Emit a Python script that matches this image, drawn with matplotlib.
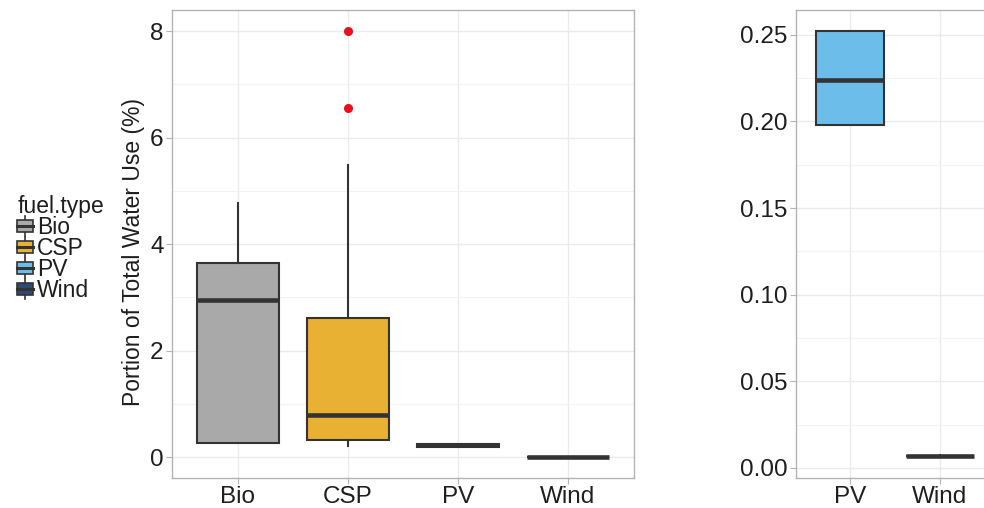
import numpy as np
import matplotlib
matplotlib.use("Agg")
import matplotlib.pyplot as plt
from matplotlib.patches import Patch, Rectangle
from matplotlib.lines import Line2D
from matplotlib.legend_handler import HandlerBase
from matplotlib.ticker import MultipleLocator

plt.rcParams['font.family'] = ['Liberation Sans', 'DejaVu Sans']

# データ（図から読み取った箱ひげ図の統計量）
fuel_types = ["Bio", "CSP", "PV", "Wind"]
colors = ["#A9A9A9", "#E9B134", "#6DBDEA", "#2D4A70"]
whislo = [0.26, 0.21, 0.198, 0.0065]
q1 = [0.26, 0.33, 0.198, 0.0068]
med = [2.95, 0.79, 0.224, 0.0070]
q3 = [3.64, 2.62, 0.252, 0.0072]
whishi = [4.77, 5.49, 0.252, 0.0075]
fliers = [[], [6.55, 8.0], [], []]
right_types = ["PV", "Wind"]

edge = "#333333"
grid_major = "#EBEBEB"
grid_minor = "#F3F3F3"
border = "#B3B3B3"
text_col = "#1E1E1E"


def make_stats(names):
    stats = []
    for n in names:
        i = fuel_types.index(n)
        stats.append(dict(label=n, whislo=whislo[i], q1=q1[i], med=med[i],
                          q3=q3[i], whishi=whishi[i], fliers=fliers[i]))
    return stats


def draw_panel(ax, names, major, ticks_fmt):
    stats = make_stats(names)
    pos = np.arange(1, len(names) + 1)
    bp = ax.bxp(stats, positions=pos, widths=0.75, patch_artist=True,
                showcaps=False, zorder=3,
                boxprops=dict(edgecolor=edge, linewidth=1.5),
                medianprops=dict(color=edge, linewidth=3.3, solid_capstyle='butt'),
                whiskerprops=dict(color=edge, linewidth=1.5),
                flierprops=dict(marker='o', markerfacecolor='#E8101C',
                                markeredgecolor='#E8101C', markersize=5.5))
    for patch, n in zip(bp['boxes'], names):
        patch.set_facecolor(colors[fuel_types.index(n)])
    # ggplot風の範囲（データ範囲の5%拡張）
    lo = min(min(s['whislo'], *(s['fliers'] or [s['whislo']])) for s in stats)
    hi = max(max(s['whishi'], *(s['fliers'] or [s['whishi']])) for s in stats)
    pad = (hi - lo) * 0.05
    ax.set_ylim(lo - pad, hi + pad)
    ax.set_xlim(0.4, len(names) + 0.6)
    ax.yaxis.set_major_locator(MultipleLocator(major))
    ax.yaxis.set_minor_locator(MultipleLocator(major / 2))
    ax.yaxis.set_major_formatter(ticks_fmt)
    ax.grid(which='major', color=grid_major, linewidth=1.0, zorder=0)
    ax.grid(which='minor', axis='y', color=grid_minor, linewidth=0.8, zorder=0)
    ax.set_axisbelow(True)
    for s in ax.spines.values():
        s.set_color(border)
        s.set_linewidth(1.0)
    ax.tick_params(which='major', length=4, color=border, labelsize=17.5,
                   labelcolor=text_col, pad=2)
    ax.tick_params(which='minor', length=0)
    ax.set_xticks(pos)
    ax.set_xticklabels(names)


class BoxHandler(HandlerBase):
    def create_artists(self, legend, orig_handle, xdescent, ydescent,
                       width, height, fontsize, trans):
        cx = width / 2 - xdescent
        y0 = -ydescent
        arts = [Line2D([cx, cx], [y0 - 0.1 * height, y0 + 1.1 * height],
                       color=edge, linewidth=1.2, transform=trans),
                Rectangle((-xdescent, y0 + 0.15 * height), width, 0.7 * height,
                          facecolor=orig_handle.get_facecolor(), edgecolor=edge,
                          linewidth=1.2, transform=trans),
                Line2D([-xdescent, width - xdescent], [y0 + height / 2] * 2,
                       color=edge, linewidth=2.2, transform=trans)]
        return arts


fig = plt.figure(figsize=(9.84, 5.08), dpi=100)
ax1 = fig.add_axes([172 / 984, 30 / 508, 462 / 984, 468 / 508])
ax2 = fig.add_axes([796 / 984, 30 / 508, 198 / 984, 468 / 508])

draw_panel(ax1, fuel_types, 2, matplotlib.ticker.FormatStrFormatter('%d'))
draw_panel(ax2, right_types, 0.05, matplotlib.ticker.FormatStrFormatter('%.2f'))
ax1.set_ylabel("Portion of Total Water Use (%)", fontsize=16.5, color=text_col)
ax1.yaxis.set_label_coords(-0.058, 0.483)

handles = [Patch(facecolor=c, label=n) for c, n in zip(colors, fuel_types)]
leg = fig.legend(handles=handles, loc='center left', bbox_to_anchor=(0.006, 0.511),
                 frameon=False, title="fuel.type", fontsize=16.5, title_fontsize=16.5,
                 handler_map={Patch: BoxHandler()}, handlelength=0.7,
                 handleheight=0.75, handletextpad=0.15, labelspacing=-0.08,
                 borderpad=0.0, alignment='left')
for t in leg.get_texts():
    t.set_color(text_col)
leg.get_title().set_color(text_col)

fig.savefig("out.png", dpi=100)
